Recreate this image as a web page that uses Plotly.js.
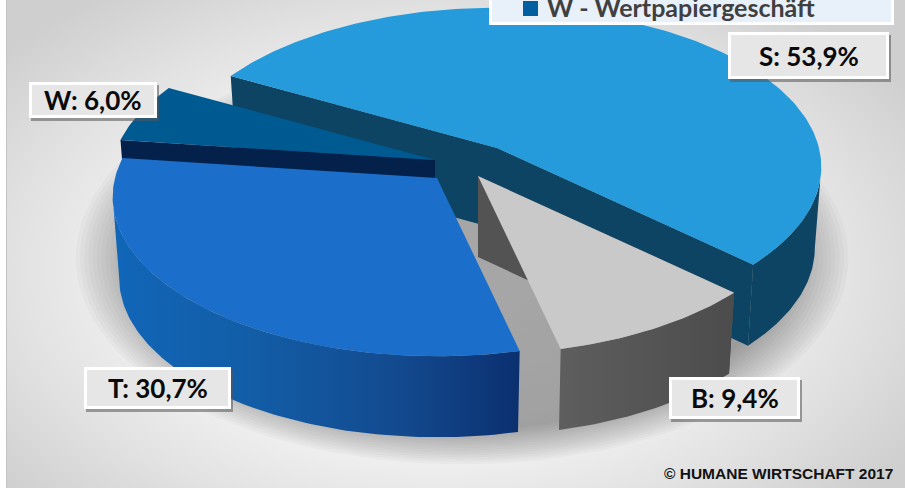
<!DOCTYPE html>
<html lang="de">
<head>
<meta charset="utf-8">
<script src="https://cdn.plot.ly/plotly-3.0.1.min.js"></script>
<style>
  html, body { margin: 0; padding: 0; background: #fff; overflow: hidden; }
  #backdrop {
    position: absolute; left: 6px; top: 0; width: 899px; height: 488px;
    background: radial-gradient(ellipse 560px 340px at 430px 270px,
      #ffffff 0%, #f6f6f6 45%, #e2e2e2 75%, #cfcfcf 100%);
    border-left: 1px solid #c4c4c4; box-sizing: border-box;
  }
  #chart { position: absolute; left: 0; top: 0; width: 905px; height: 489px; }
</style>
</head>
<body>
<div id="backdrop"></div>
<div id="chart"></div>
<script>
// Segment shares in percent, clockwise from the rear left edge
const categories = ['S', 'B', 'T', 'W'];
const shares = [53.9, 9.4, 30.7, 6.0];
const legendEntry = 'W - Wertpapiergeschäft';
const credit = '© HUMANE WIRTSCHAFT 2017';

// Perspective view of the pie disc
const view = { radius: 322, squash: 157, persp: 0.119, depth: 81, taper: 0.98, startDeg: 209 };
const hubs = { S: [497, 148], B: [478, 176], T: [437, 178], W: [435, 160] };
const topColor = { S: '#269bdc', B: '#c9c9c9', T: '#1b6fcb', W: '#005a92' };
const sideColor = { S: '#0e4463', B: '#535353', T: '#0f4c94', W: '#03214a' };
const sideRamp = {
  T: [[0, '#1166b8'], [0.35, '#125da6'], [0.7, '#134a8f'], [1, '#0b3070']],
  B: [[0, '#5e5e5e'], [1, '#4c4c4c']]
};
const labelBox = {
  S: [728, 32, 889, 79], B: [669, 377, 800, 419],
  T: [84, 367, 231, 409], W: [29, 82, 157, 118]
};

const rad = d => d * Math.PI / 180;

// Rim point of a disc at angle t (degrees, clockwise on screen)
function rim(hub, t) {
  const X = Math.cos(rad(t)), Y = Math.sin(rad(t));
  const w = 1 - view.persp * Y;
  return [hub[0] + view.radius * X / w, hub[1] + view.squash * Y / w];
}
// The same point on the underside of the disc
function lower(hub, p) {
  return [hub[0] + (p[0] - hub[0]) * view.taper, p[1] + view.depth];
}
function arc(hub, a, b) {
  const pts = [], n = Math.max(2, Math.ceil(Math.abs(b - a)));
  for (let i = 0; i <= n; i++) pts.push(rim(hub, a + (b - a) * i / n));
  return pts;
}
function poly(pts, color, ramp) {
  const tr = {
    type: 'scatter', mode: 'lines', hoverinfo: 'skip', showlegend: false,
    x: pts.map(p => p[0]).concat(pts[0][0]),
    y: pts.map(p => p[1]).concat(pts[0][1]),
    fill: 'toself', fillcolor: color, line: { width: 0, color: color }
  };
  if (ramp) {
    const xs = pts.map(p => p[0]);
    tr.fillgradient = { type: 'horizontal', colorscale: ramp, start: Math.min(...xs), stop: Math.max(...xs) };
  }
  return tr;
}

// Angular span of every segment, derived from its share
const spans = {};
let cursor = view.startDeg;
categories.forEach((c, i) => {
  const sweep = shares[i] * 3.6;
  spans[c] = [cursor, cursor + sweep];
  cursor += sweep;
});

// Rim stretch that faces the viewer in a given turn
const edgeR = Math.asin(view.persp) * 180 / Math.PI;
const edgeL = 180 - edgeR;
function frontRim(a, b) {
  for (const k of [-360, 0, 360, 720]) {
    const lo = Math.max(a, edgeR + k), hi = Math.min(b, edgeL + k);
    if (hi > lo) return [lo, hi];
  }
  return null;
}

function cutFace(hub, t, color) {
  const p = rim(hub, t);
  return poly([hub, p, lower(hub, p), lower(hub, hub)], color);
}
function rimFace(c) {
  const hub = hubs[c], f = frontRim(spans[c][0], spans[c][1]);
  if (!f) return [];
  const top = arc(hub, f[0], f[1]);
  const bottom = top.map(p => lower(hub, p)).reverse();
  return [poly(top.concat(bottom), sideColor[c], sideRamp[c])];
}
function topFace(c) {
  const hub = hubs[c];
  return poly([hub].concat(arc(hub, spans[c][0], spans[c][1])), topColor[c]);
}

// Soft shadow under the pie built from stacked translucent discs
const traces = [];
const shadowSteps = 16;
for (let i = 0; i < shadowSteps; i++) {
  const grow = 1.2 - 0.2 * i / (shadowSteps - 1);
  const pts = [];
  for (let t = 0; t < 360; t += 3) {
    pts.push([462 + 322 * grow * Math.cos(rad(t)), 258 + 172 * grow * Math.sin(rad(t))]);
  }
  traces.push(poly(pts, 'rgba(0,0,0,0.022)'));
}

// Paint order runs from the rear segment to the front ones
traces.push(cutFace(hubs.S, spans.S[0], sideColor.S), cutFace(hubs.S, spans.S[1], sideColor.S));
traces.push(...rimFace('S'), topFace('S'));
traces.push(cutFace(hubs.W, spans.W[0], sideColor.W), topFace('W'));
traces.push(...rimFace('T'), topFace('T'));
traces.push(cutFace(hubs.B, spans.B[0], sideColor.B));
traces.push(...rimFace('B'), topFace('B'));

// Value labels with raised boxes
const shapes = [], annotations = [];
const rect = (b, fill, line, w, op) => ({
  type: 'rect', layer: 'above', xref: 'x', yref: 'y',
  x0: b[0], y0: b[1], x1: b[2], y1: b[3],
  fillcolor: fill, line: { color: line, width: w }, opacity: op === undefined ? 1 : op
});
categories.forEach((c, i) => {
  const b = labelBox[c];
  shapes.push(rect([b[0] + 2, b[1] + 3, b[2] + 2, b[3] + 3], '#555555', 'rgba(0,0,0,0)', 0, 0.55));
  shapes.push(rect([b[0] + 1.5, b[1] + 1.5, b[2] - 1.5, b[3] - 1.5], '#e6e6e6', '#ffffff', 3));
  annotations.push({
    x: (b[0] + b[2]) / 2, y: (b[1] + b[3]) / 2, xref: 'x', yref: 'y', showarrow: false,
    text: '<b>' + c + ': ' + shares[i].toFixed(1).replace('.', ',') + '%</b>',
    font: { family: 'Lato, sans-serif', size: 26, color: '#0a0a0a' }
  });
});

// Legend strip at the top edge
shapes.push(rect([490.5, -6, 892.5, 23.5], '#e8f1f9', '#ffffff', 3));
shapes.push(rect([523, 1, 538, 16], '#005f9e', '#005f9e', 0));
annotations.push({
  x: 545, y: 7, xref: 'x', yref: 'y', xanchor: 'left', showarrow: false,
  text: '<b>' + legendEntry + '</b>',
  font: { family: 'Lato, sans-serif', size: 25, color: '#404040' }
});
annotations.push({
  x: 895, y: 473, xref: 'x', yref: 'y', xanchor: 'right', showarrow: false,
  text: '<b>' + credit + '</b>',
  font: { family: 'Liberation Sans, Arial, sans-serif', size: 15.5, color: '#111111' }
});

const hiddenAxis = r => ({
  range: r, visible: false, showgrid: false, zeroline: false, fixedrange: true
});
Plotly.newPlot('chart', traces, {
  width: 905, height: 489,
  margin: { l: 0, r: 0, t: 0, b: 0 },
  paper_bgcolor: 'rgba(0,0,0,0)', plot_bgcolor: 'rgba(0,0,0,0)',
  xaxis: hiddenAxis([0, 905]),
  yaxis: hiddenAxis([489, 0]),
  shapes: shapes, annotations: annotations, showlegend: false
}, { staticPlot: true, displayModeBar: false });
</script>
</body>
</html>
